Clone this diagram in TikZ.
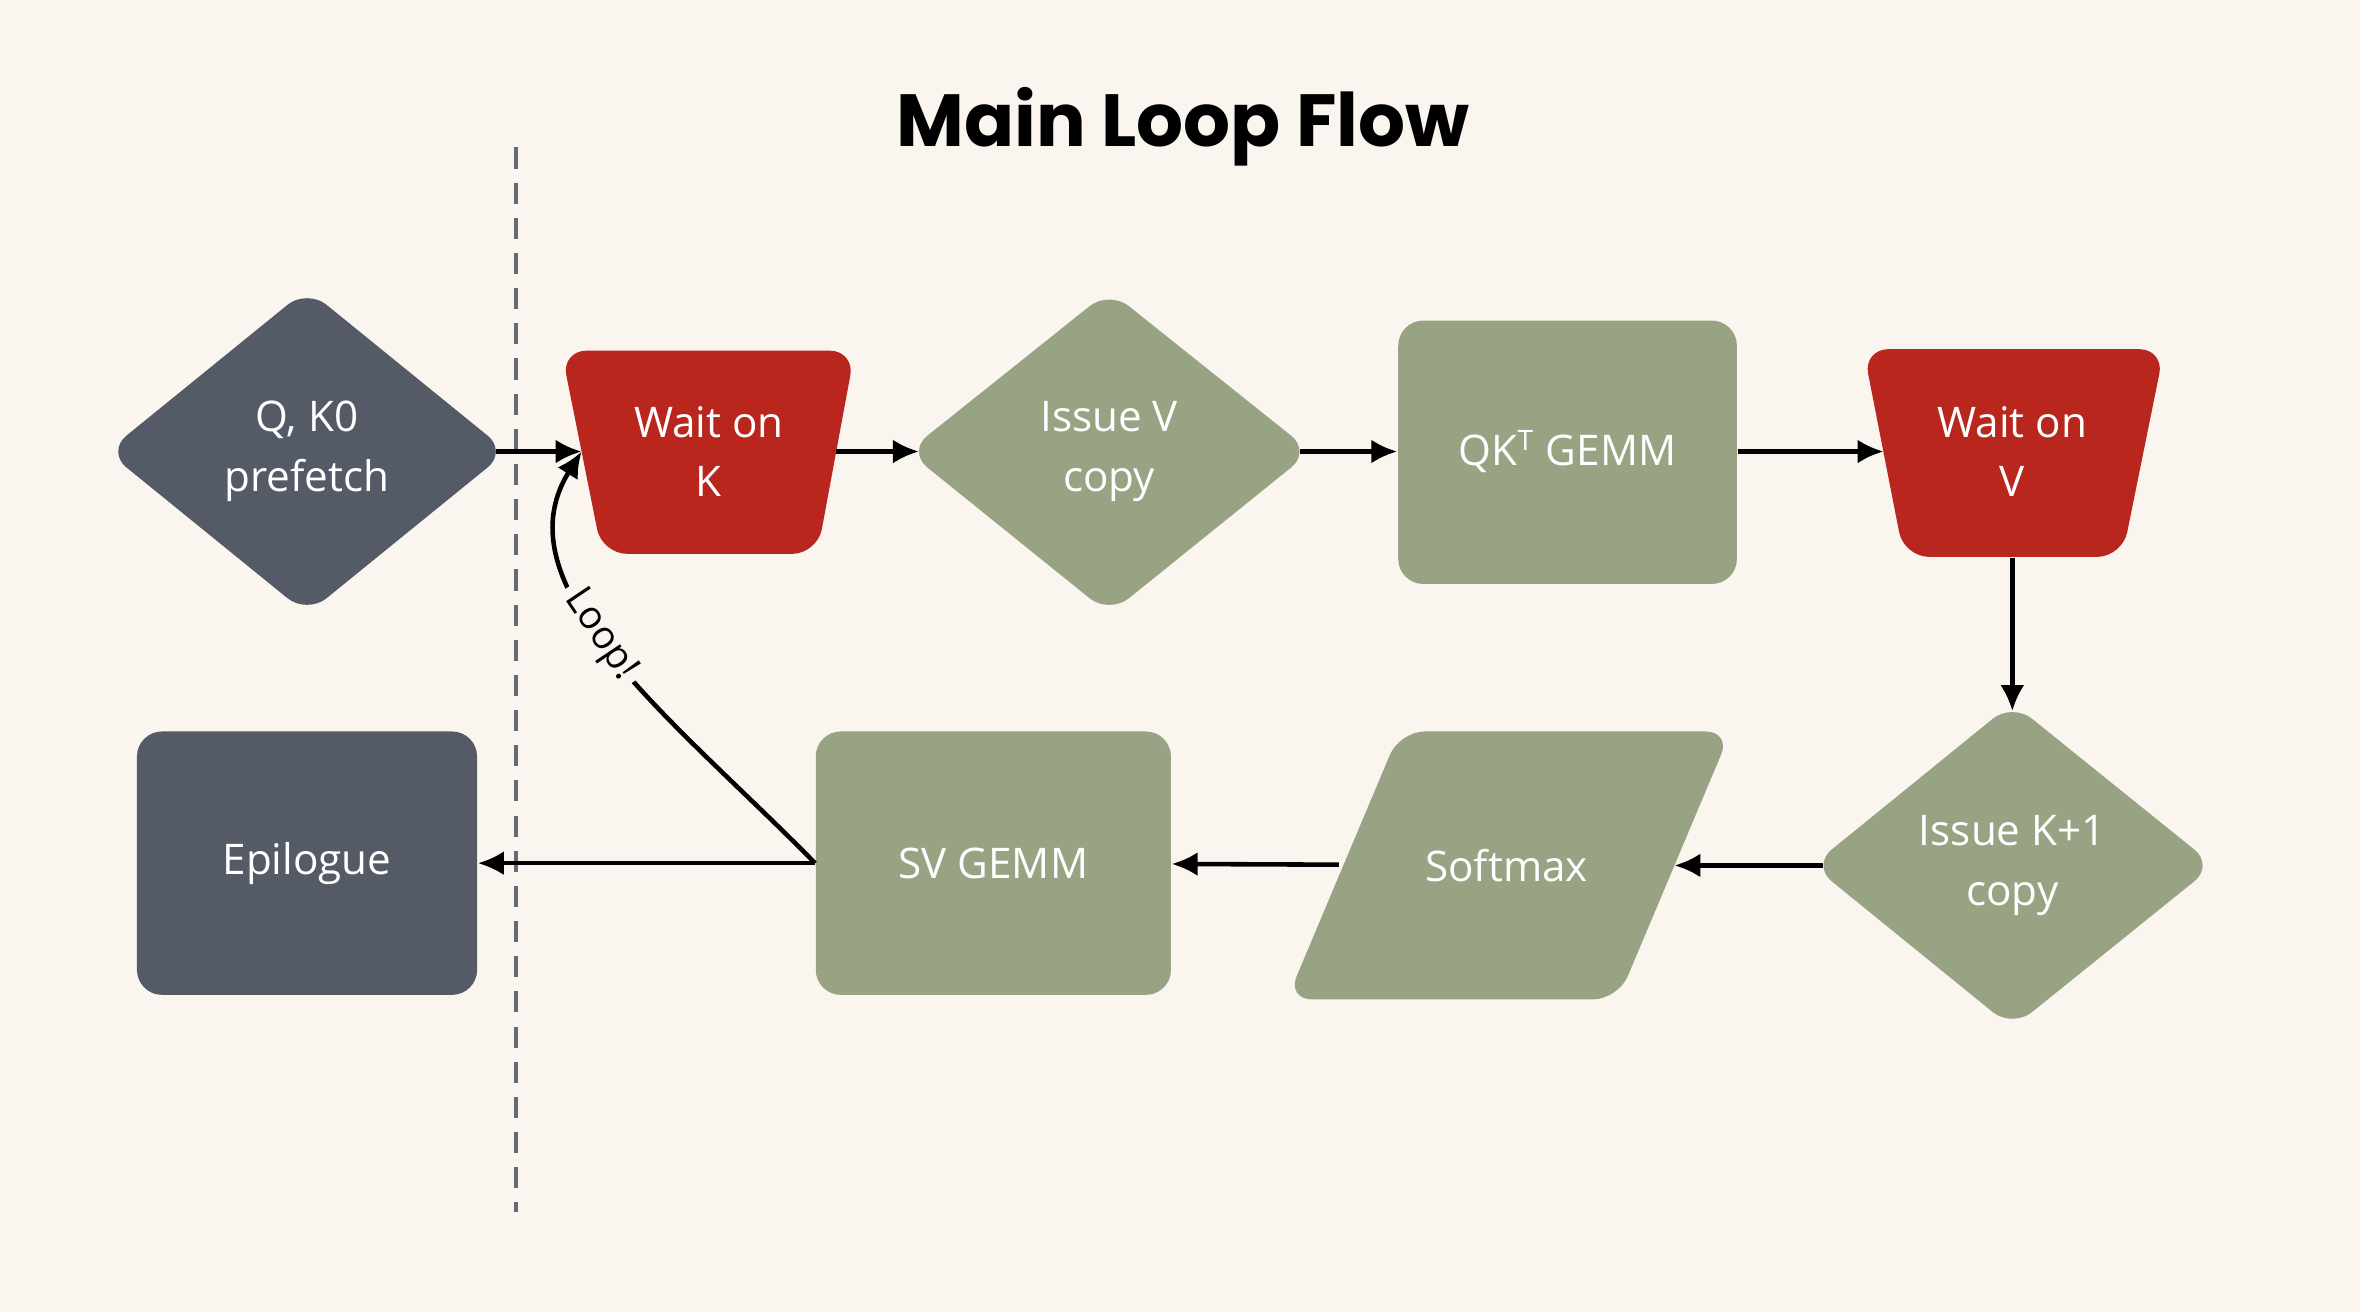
\documentclass[tikz,border=0pt]{standalone}
\usepackage{fontspec}
\setmainfont{Open Sans}
\newfontfamily\titlefont{Poppins}
\usetikzlibrary{arrows.meta}
\definecolor{bgcol}{HTML}{FBF5F0}
\definecolor{slate}{HTML}{545B66}
\definecolor{brick}{HTML}{B9261E}
\definecolor{sage}{HTML}{97A383}
\tikzset{
  box/.style={inner sep=0pt, text=white, align=center, font=\fontsize{12}{17}\selectfont},
  shade/.style={rounded corners=0.25cm},
  arrow/.style={line width=1.3pt, -{Latex[length=2.6mm,width=2.4mm]}}
}
\begin{document}
\begin{tikzpicture}[x=0.01505cm, y=-0.01505cm]
	\fill[bgcol] (0,0) rectangle (1568,872);
	\useasboundingbox (0,0) rectangle (1568,872);
	\node (title) at (786,84) {\titlefont\bfseries\fontsize{21}{25}\selectfont Main Loop Flow};
	\draw[slate!90, line width=1.2pt, dash pattern=on 6pt off 4pt] (343,98) -- (343,805);

	% shapes
	\fill[slate, shade] (71,300) -- (204,192) -- (337,300) -- (204,408) -- cycle;
	\fill[brick, shade] (373,233) -- (568,233) -- (543,368) -- (400,368) -- cycle;
	\fill[sage, shade] (603,300) -- (737,193) -- (871,300) -- (737,408) -- cycle;
	\fill[sage, shade] (929,213) rectangle (1154,388);
	\fill[brick, shade] (1238,232) -- (1438,232) -- (1410,370) -- (1265,370) -- cycle;
	\fill[sage, shade] (1204,575) -- (1337,467) -- (1471,575) -- (1337,683) -- cycle;
	\fill[sage, shade] (930,486) -- (1150,486) -- (1075,664) -- (855,664) -- cycle;
	\fill[sage, shade] (542,486) rectangle (778,661);
	\fill[slate, shade] (91,486) rectangle (317,661);

	% nodes
	\node (prefetch) [box, minimum width=3.76cm, minimum height=3.07cm] at (204,300) {Q, K0\\prefetch};
	\node (waitk) [box, minimum width=2.53cm, minimum height=2.03cm] at (471,300) {Wait on\\K};
	\node (issuev) [box, minimum width=3.79cm, minimum height=3.04cm] at (737,300) {Issue V\\copy};
	\node (qkgemm) [box, minimum width=3.39cm, minimum height=2.63cm] at (1041.5,300) {QK\textsuperscript{T} GEMM};
	\node (waitv) [box, minimum width=2.56cm, minimum height=2.11cm] at (1337,300) {Wait on\\V};
	\node (issuek) [box, minimum width=3.78cm, minimum height=3.07cm] at (1337,575) {Issue K+1\\copy};
	\node (softmax) [box, minimum width=3.34cm, minimum height=2.68cm] at (1001,575) {Softmax};
	\node (svgemm) [box, minimum width=3.55cm, minimum height=2.63cm] at (660,573.5) {SV GEMM};
	\node (epilogue) [box, minimum width=3.40cm, minimum height=2.63cm] at (204,573.5) {Epilogue};

	% connectors
	\draw[arrow] (prefetch) -- (waitk);
	\draw[arrow] (waitk) -- (issuev);
	\draw[arrow] (issuev) -- (qkgemm);
	\draw[arrow] (qkgemm) -- (waitv);
	\draw[arrow] (waitv) -- (issuek);
	\draw[arrow] (issuek) -- (softmax);
	\draw[arrow] (softmax) -- (svgemm);
	\draw[arrow] (svgemm) -- (epilogue);
	\draw[arrow] (svgemm.west) .. controls (450,480) and (330,390) .. node[pos=0.55, sloped, fill=bgcol, inner sep=2pt, font=\fontsize{11}{13}\selectfont] {Loop!} (waitk.west);
\end{tikzpicture}
\end{document}
